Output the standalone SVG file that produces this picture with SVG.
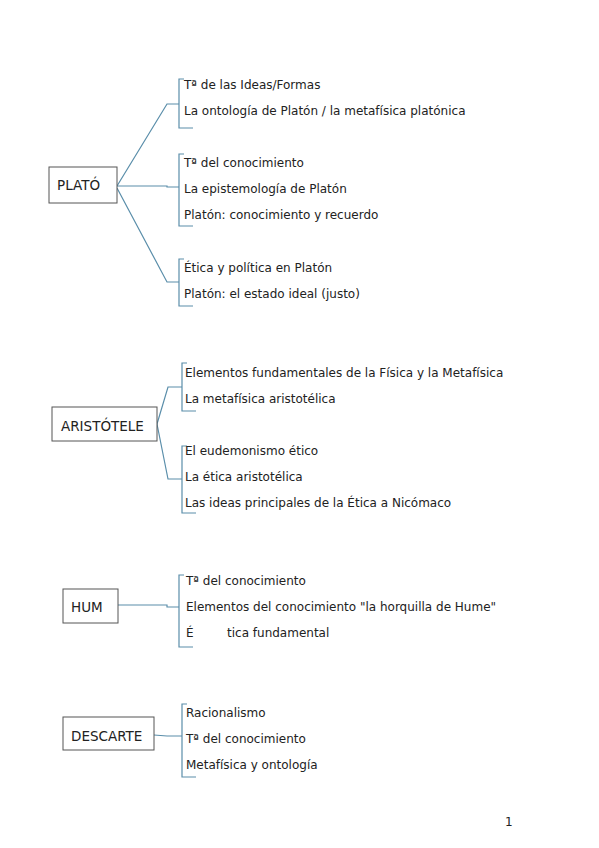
<svg xmlns="http://www.w3.org/2000/svg" width="599" height="848" viewBox="0 0 599 848">
<style>
.box{fill:#fff;stroke:#555;stroke-width:1}
.lbl{font-family:"DejaVu Sans",sans-serif;font-size:13.5px;fill:#222}
.it{font-family:"DejaVu Sans",sans-serif;font-size:12px;fill:#222}
.c{fill:none;stroke:#5a8eaa;stroke-width:1.2}
</style>
<rect width="599" height="848" fill="#fff"/>
<g id="connectors">
<path class="c" d="M117,186 L167,104 L179,104"/>
<path class="c" d="M117,186 L167,186 L167,187 L179,187"/>
<path class="c" d="M117,188 L167,282 L179,282"/>
<path class="c" d="M184,79 L179,79 L179,128 L193,128"/>
<path class="c" d="M184,154 L179,154 L179,226 L193,226"/>
<path class="c" d="M184,259 L179,259 L179,306 L193,306"/>
<path class="c" d="M157,424 L168,387 L182,387"/>
<path class="c" d="M157,424 L168,479 L182,479"/>
<path class="c" d="M187,363 L182,363 L182,411 L196,411"/>
<path class="c" d="M187,446 L182,446 L182,513 L196,513"/>
<path class="c" d="M118,605 L167,605 L167,607 L179,607"/>
<path class="c" d="M184,575 L179,575 L179,647 L193,647"/>
<path class="c" d="M154,735 L167,736 L182,736"/>
<path class="c" d="M187,704 L182,704 L182,777 L196,777"/>
</g>
<g id="plato">
<rect class="box" x="49" y="167" width="68" height="36"/>
<text class="lbl" x="57" y="190">PLATÓ</text>
</g>
<g id="plato-1">
<text class="it" x="184" y="89">Tª de las Ideas/Formas</text>
<text class="it" x="184" y="115">La ontología de Platón / la metafísica platónica</text>
</g>
<g id="plato-2">
<text class="it" x="184" y="167">Tª del conocimiento</text>
<text class="it" x="184" y="193">La epistemología de Platón</text>
<text class="it" x="184" y="219">Platón: conocimiento y recuerdo</text>
</g>
<g id="plato-3">
<text class="it" x="184" y="272">Ética y política en Platón</text>
<text class="it" x="184" y="298">Platón: el estado ideal (justo)</text>
</g>
<g id="aristoteles">
<rect class="box" x="52" y="407" width="105" height="34"/>
<text class="lbl" x="61" y="431">ARISTÓTELE</text>
</g>
<g id="aristoteles-1">
<text class="it" x="185" y="377">Elementos fundamentales de la Física y la Metafísica</text>
<text class="it" x="185" y="403">La metafísica aristotélica</text>
</g>
<g id="aristoteles-2">
<text class="it" x="185" y="455">El eudemonismo ético</text>
<text class="it" x="185" y="481">La ética aristotélica</text>
<text class="it" x="185" y="507">Las ideas principales de la Ética a Nicómaco</text>
</g>
<g id="hume">
<rect class="box" x="63" y="589" width="55" height="34"/>
<text class="lbl" x="71" y="612">HUM</text>
</g>
<g id="hume-1">
<text class="it" x="186" y="585">Tª del conocimiento</text>
<text class="it" x="186" y="611">Elementos del conocimiento "la horquilla de Hume"</text>
<text class="it" x="186" y="637">É</text>
<text class="it" x="227" y="637">tica fundamental</text>
</g>
<g id="descartes">
<rect class="box" x="63" y="717" width="91" height="33"/>
<text class="lbl" x="71" y="741">DESCARTE</text>
</g>
<g id="descartes-1">
<text class="it" x="186" y="717">Racionalismo</text>
<text class="it" x="186" y="743">Tª del conocimiento</text>
<text class="it" x="186" y="769">Metafísica y ontología</text>
</g>
<text class="it" x="505" y="826">1</text>
</svg>
